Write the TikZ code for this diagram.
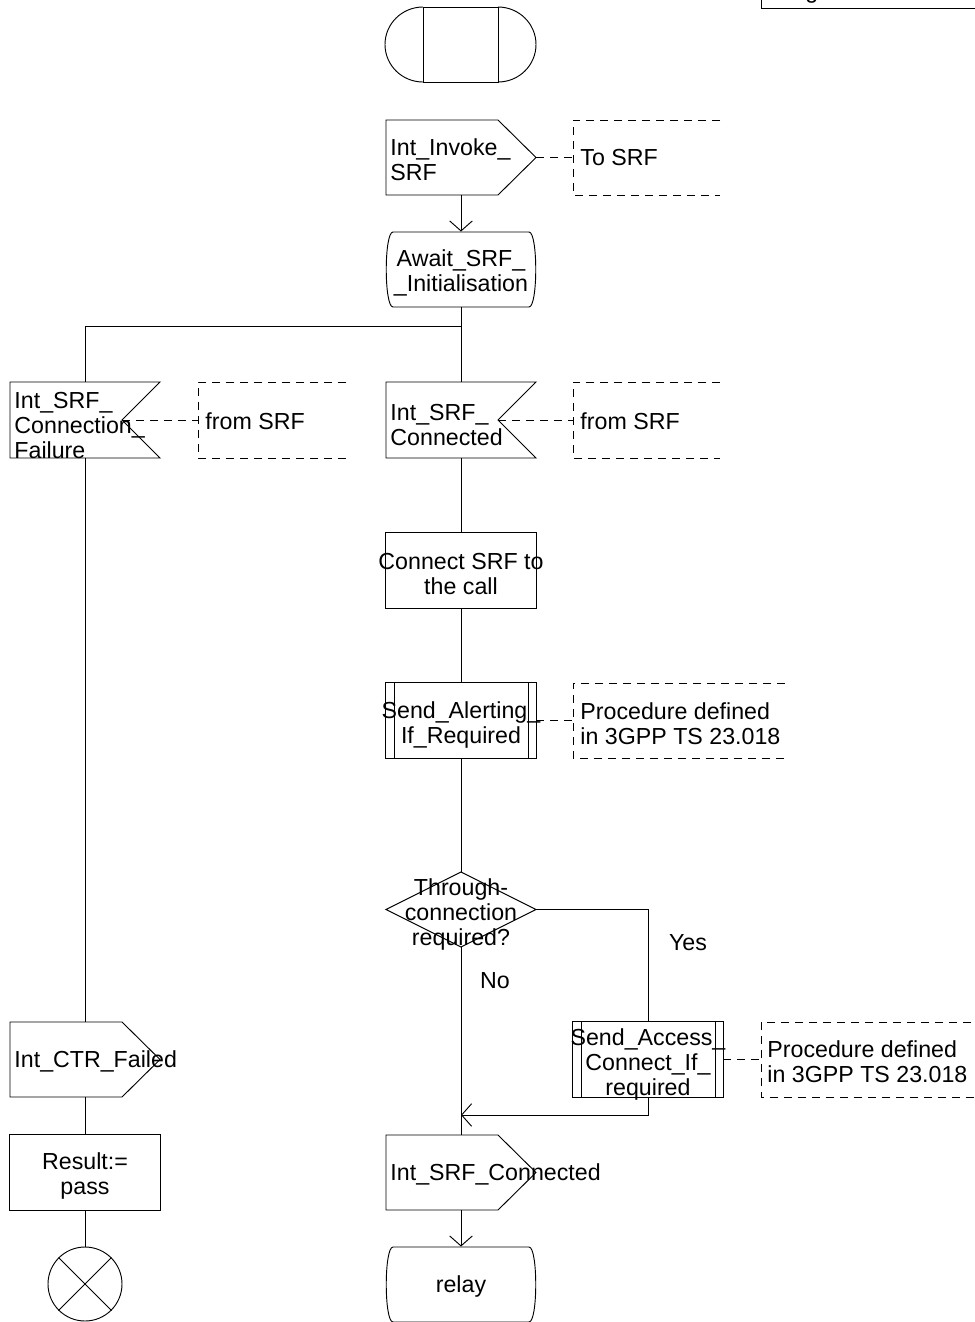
\documentclass[tikz,border=0pt]{standalone}
\usepackage{fontspec}
\setmainfont{Liberation Sans}
\usetikzlibrary{arrows.meta}
\begin{document}
\begin{tikzpicture}[x=0.75pt,y=-0.75pt,line width=0.7pt,
  every node/.style={font=\fontsize{17.4}{18.75}\selectfont,inner sep=0pt},
  dsh/.style={dash pattern=on 6pt off 4.5pt},
  arr/.style={-{Straight Barb[length=7.5pt,width=17pt,line width=0.7pt]}},
  area/.style 2 args={minimum width=#1,minimum height=#2,draw=none},
  sym/.style={area={112.5pt}{56.25pt}},
  ctxt/.style={align=center},
  lab/.style={anchor=west,align=left}]
\useasboundingbox (0,0) rectangle (975,1322);
\clip (0,0) rectangle (975,1322);

% ---- page label box (cut off at the top)
\draw (761,-10) -- (761,8) -- (985,8);
\node[anchor=base west] (pglabel) at (805,-2) {g};

% ---- start
\node[sym] (start) at (461,44.5) {};
\draw (423,7) rectangle (498,82);
\draw (423,7) arc[start angle=270,end angle=90,x radius=38,y radius=37.5];
\draw (498,7) arc[start angle=270,end angle=450,x radius=38,y radius=37.5];

% ---- Int_Invoke_SRF (output)
\node[sym] (invoke) at (461,157.5) {};
\draw (386,120) -- (498,120) -- (536,157.5) -- (498,195) -- (386,195) -- cycle;
\node[lab] (invoket) at (390,160) {Int\_Invoke\_\\SRF};
\node[area={111pt}{56.25pt}] (c1) at (647,157.5) {};
\draw[dsh] (720,120) -- (573,120) -- (573,195) -- (720,195);
\node[lab] (c1t) at (580,158) {To SRF};
\draw[dsh] (invoke.east) -- (c1.west);

% ---- Await state
\node[sym] (await) at (461,269.5) {};
\draw (393,232) -- (529,232) .. controls (538,232) and (538,307) .. (529,307)
      -- (393,307) .. controls (384,307) and (384,232) .. (393,232) -- cycle;
\node[ctxt] (awaitt) at (461,273) {Await\_SRF\_\\\_Initialisation};
\draw[arr] (invoke.south) -- (await.north);

\coordinate (j1) at (461,326);
\draw (await.south) -- (j1);

% ---- Int_SRF_Connection_Failure (input, left)
\node[sym] (fail) at (85,420) {};
\draw (10,382) -- (160,382) -- (122,420) -- (160,458) -- (10,458) -- cycle;
\node[lab] (failt) at (14,426) {Int\_SRF\_\\Connection\_\\Failure};
\coordinate (failn) at (122,420);
\node[area={111pt}{56.25pt}] (c2) at (272,420) {};
\draw[dsh] (346,382) -- (198,382) -- (198,458) -- (346,458);
\node[lab] (c2t) at (205,421) {from SRF};
\draw[dsh] (failn) -- (c2.west);
\draw (j1) -| (fail.north);

% ---- Int_SRF_Connected (input)
\node[sym] (conn) at (461,420) {};
\draw (386,382) -- (536,382) -- (498,420) -- (536,458) -- (386,458) -- cycle;
\node[lab] (connt) at (390,425) {Int\_SRF\_\\Connected};
\coordinate (connn) at (498,420);
\node[area={111pt}{56.25pt}] (c3) at (647,420) {};
\draw[dsh] (720,382) -- (573,382) -- (573,458) -- (720,458);
\node[lab] (c3t) at (580,421) {from SRF};
\draw[dsh] (connn) -- (c3.west);
\draw (j1) -- (conn.north);

% ---- Connect SRF task
\node[sym] (task) at (461,570.5) {};
\draw (task.north west) rectangle (task.south east);
\node[ctxt] (taskt) at (461,574) {Connect SRF to\\the call};
\draw (conn.south) -- (task.north);

% ---- Send_Alerting_If_Required
\node[sym] (alert) at (461,720.5) {};
\draw (alert.north west) rectangle (alert.south east);
\draw (394,683) -- (394,758) (528,683) -- (528,758);
\node[ctxt] (alertt) at (461,725) {Send\_Alerting\_\\If\_Required};
\node[area={159pt}{56.25pt}] (c4) at (679,720.5) {};
\draw[dsh] (785,683) -- (573,683) -- (573,758) -- (785,758);
\node[lab] (c4t) at (580,724) {Procedure defined\\in 3GPP TS 23.018};
\draw[dsh] (alert.east) -- (c4.west);
\draw (task.south) -- (alert.north);

% ---- decision
\node[sym] (dec) at (461,909.5) {};
\draw (461,872) -- (536,909.5) -- (461,947) -- (386,909.5) -- cycle;
\node[ctxt] (dect) at (461,914) {Through-\\connection\\required?};
\draw (alert.south) -- (dec.north);
\node (yes) at (688,943) {Yes};
\node (no) at (495,981) {No};

% ---- Send_Access_Connect_If_required
\node[sym] (access) at (648,1059.5) {};
\draw (access.north west) rectangle (access.south east);
\draw (581,1022) -- (581,1097) (715,1022) -- (715,1097);
\node[ctxt] (accesst) at (648,1064) {Send\_Access\_\\Connect\_If\_\\required};
\node[area={165pt}{56.25pt}] (c5) at (871,1059.5) {};
\draw[dsh] (985,1022) -- (761,1022) -- (761,1097) -- (985,1097);
\node[lab] (c5t) at (767,1062) {Procedure defined\\in 3GPP TS 23.018};
\draw[dsh] (access.east) -- (c5.west);
\draw (dec.east) -| (access.north);

% ---- Int_SRF_Connected (output)
\node[sym] (srfc) at (461,1172.5) {};
\draw (386,1135) -- (498,1135) -- (536,1172.5) -- (498,1210) -- (386,1210) -- cycle;
\node[lab] (srfct) at (390,1174) {Int\_SRF\_Connected};
\draw (dec.south) -- (srfc.north);
\coordinate (merge) at (461,1115);
\draw[arr] (access.south) |- (merge);

% ---- relay state
\node[sym] (relay) at (461,1284.5) {};
\draw (393,1247) -- (529,1247) .. controls (538,1247) and (538,1322) .. (529,1322)
      -- (393,1322) .. controls (384,1322) and (384,1247) .. (393,1247) -- cycle;
\node (relayt) at (461,1286) {relay};
\draw[arr] (srfc.south) -- (relay.north);

% ---- left column
\node[sym] (ctr) at (85,1059.5) {};
\draw (10,1022) -- (122,1022) -- (160,1059.5) -- (122,1097) -- (10,1097) -- cycle;
\node[lab] (ctrt) at (14,1061) {Int\_CTR\_Failed};
\draw (fail.south) -- (ctr.north);

\node[sym] (result) at (85,1172.5) {};
\draw (result.north west) rectangle (result.south east);
\node[ctxt] (resultt) at (85,1176) {Result:=\\pass};
\draw (ctr.south) -- (result.north);

\node[circle,draw,minimum size=55.5pt] (stop) at (85,1284) {};
\draw (stop.north west) -- (stop.south east) (stop.north east) -- (stop.south west);
\draw (result.south) -- (stop.north);
\end{tikzpicture}
\end{document}
